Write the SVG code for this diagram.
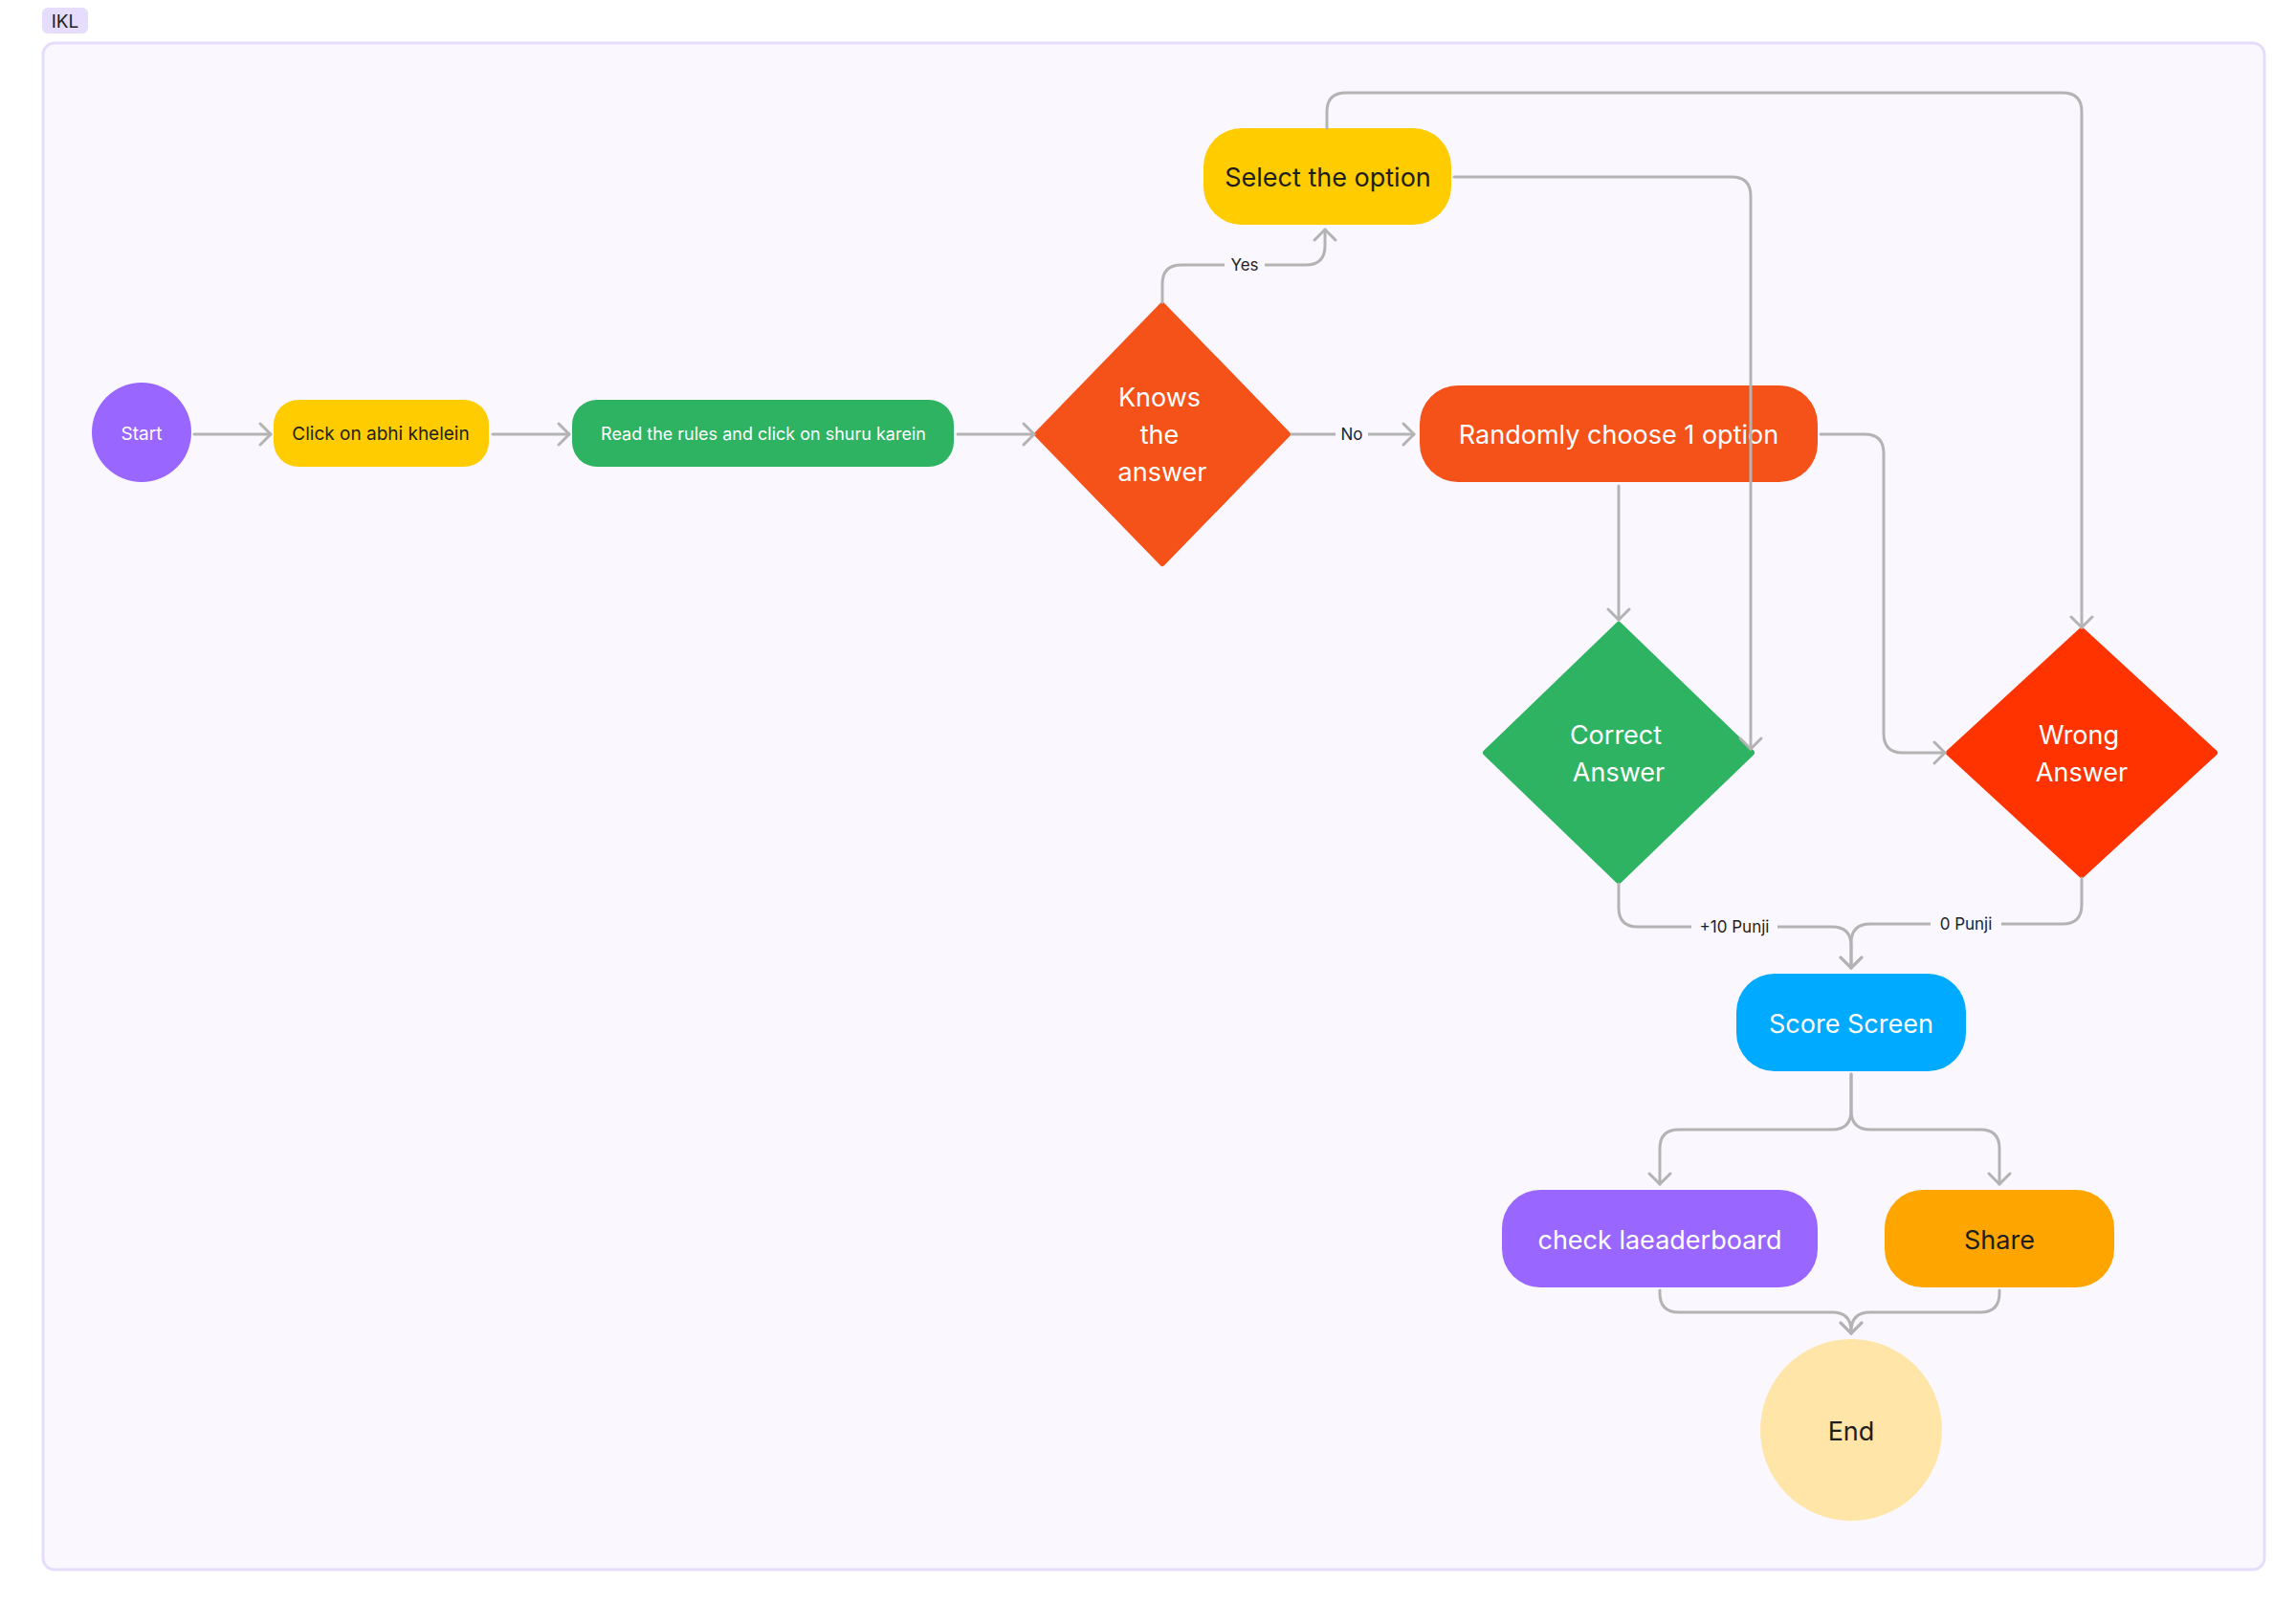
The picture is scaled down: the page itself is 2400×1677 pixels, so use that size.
<svg xmlns="http://www.w3.org/2000/svg" width="2400" height="1677" viewBox="0 0 2400 1677">
<defs>
<style>
text{font-family:Inter,"Liberation Sans",sans-serif;text-anchor:middle;dominant-baseline:central}
.c path{fill:none;stroke:#b3b3b3;stroke-width:3;stroke-linecap:round}
.lbl{font-size:17px;fill:#1e1e1e}
.lb{fill:#faf8fe}
.w{fill:#fff}
.k{fill:#1e1e1e}
</style>
<marker id="a" markerUnits="userSpaceOnUse" markerWidth="30" markerHeight="30" viewBox="-15 -15 30 30" refX="0" refY="0" orient="auto">
<path d="M-11 -11 L0 0 L-11 11" fill="none" stroke="#b3b3b3" stroke-width="3" stroke-linecap="round" stroke-linejoin="round"/>
</marker>
</defs>
<rect width="2400" height="1677" fill="#fff"/>
<g id="frame">
<rect x="45" y="45" width="2322" height="1596" rx="12" fill="#faf8fe" stroke="#e6dcfb" stroke-width="3"/>
<rect x="44" y="8" width="48" height="27" rx="6" fill="#e6dcfb"/>
<text x="68" y="22" font-size="19" class="k">IKL</text>
</g>
<g id="start"><circle cx="148" cy="452" r="52" fill="#9966ff"/><text x="148" y="453" font-size="19" class="w">Start</text></g>
<g id="click"><rect x="286" y="418" width="225" height="70" rx="26" fill="#ffcc00"/><text x="398" y="453" font-size="19" class="k">Click on abhi khelein</text></g>
<g id="read"><rect x="598" y="418" width="399" height="70" rx="26" fill="#2eb362"/><text x="798" y="453" font-size="18" class="w">Read the rules and click on shuru karein</text></g>
<g id="knows"><path d="M1215 319 L1346 454 L1215 589 L1084 454 Z" fill="#f5521a" stroke="#f5521a" stroke-width="6" stroke-linejoin="round"/>
<text font-size="27" class="w"><tspan x="1212" y="415">Knows</tspan><tspan x="1212" y="454">the</tspan><tspan x="1215" y="493">answer</tspan></text></g>
<g id="select"><rect x="1258" y="134" width="259" height="101" rx="40" fill="#ffcc00"/><text x="1388" y="185" font-size="27" class="k">Select the option</text></g>
<g id="random"><rect x="1484" y="403" width="416" height="101" rx="40" fill="#f5521a"/><text x="1692" y="454" font-size="27" class="w">Randomly choose 1 option</text></g>
<g id="correct"><path d="M1692 653 L1831 787 L1692 921 L1553 787 Z" fill="#2eb362" stroke="#2eb362" stroke-width="6" stroke-linejoin="round"/>
<text font-size="27" class="w"><tspan x="1689" y="768">Correct</tspan><tspan x="1692" y="807">Answer</tspan></text></g>
<g id="wrong"><path d="M2176 659 L2315 787 L2176 915 L2037 787 Z" fill="#ff3300" stroke="#ff3300" stroke-width="6" stroke-linejoin="round"/>
<text font-size="27" class="w"><tspan x="2173" y="768">Wrong</tspan><tspan x="2176" y="807">Answer</tspan></text></g>
<g id="score"><rect x="1815" y="1018" width="240" height="102" rx="40" fill="#00aaff"/><text x="1935" y="1070" font-size="27" class="w">Score Screen</text></g>
<g id="check"><rect x="1570" y="1244" width="330" height="102" rx="40" fill="#9966ff"/><text x="1735" y="1296" font-size="27" class="w">check laeaderboard</text></g>
<g id="share"><rect x="1970" y="1244" width="240" height="102" rx="40" fill="#ffa500"/><text x="2090" y="1296" font-size="27" class="k">Share</text></g>
<g id="end"><circle cx="1935" cy="1495" r="95" fill="#ffe6a8"/><text x="1935" y="1496" font-size="27" class="k">End</text></g>
<g class="c" id="connectors">
<path d="M203 454 H283" marker-end="url(#a)"/>
<path d="M515 454 H595" marker-end="url(#a)"/>
<path d="M1001 454 H1081" marker-end="url(#a)"/>
<path d="M1350 454 H1478" marker-end="url(#a)"/>
<path d="M1215 316 V297 Q1215 277 1235 277 H1365 Q1385 277 1385 257 V240" marker-end="url(#a)"/>
<path d="M1387 134 V117 Q1387 97 1407 97 H2156 Q2176 97 2176 117 V656" marker-end="url(#a)"/>
<path d="M1520 185 H1810 Q1830 185 1830 205 V783" marker-end="url(#a)"/>
<path d="M1692 508 V648" marker-end="url(#a)"/>
<path d="M1903 454 H1949 Q1969 454 1969 474 V767 Q1969 787 1989 787 H2033" marker-end="url(#a)"/>
<path d="M1692 924 V949 Q1692 969 1712 969 H1915 Q1935 969 1935 989 V1012" marker-end="url(#a)"/>
<path d="M2176 918 V946 Q2176 966 2156 966 H1955 Q1935 966 1935 986 V1012" marker-end="url(#a)"/>
<path d="M1935 1123 V1161 Q1935 1181 1915 1181 H1755 Q1735 1181 1735 1201 V1238" marker-end="url(#a)"/>
<path d="M1935 1123 V1161 Q1935 1181 1955 1181 H2070 Q2090 1181 2090 1201 V1238" marker-end="url(#a)"/>
<path d="M1735 1349 V1352 Q1735 1372 1755 1372 H1915 Q1935 1372 1935 1392 V1394" marker-end="url(#a)"/>
<path d="M2090 1349 V1352 Q2090 1372 2070 1372 H1955 Q1935 1372 1935 1392 V1394" marker-end="url(#a)"/>
<rect class="lb" x="1396" y="442" width="34" height="24"/><text class="lbl" x="1413" y="454">No</text>
<rect class="lb" x="1280" y="265" width="42" height="24"/><text class="lbl" x="1301" y="277">Yes</text>
<rect class="lb" x="1768" y="957" width="90" height="24"/><text class="lbl" x="1813" y="969">+10 Punji</text>
<rect class="lb" x="2018" y="954" width="74" height="24"/><text class="lbl" x="2055" y="966">0 Punji</text>
</g>
</svg>
